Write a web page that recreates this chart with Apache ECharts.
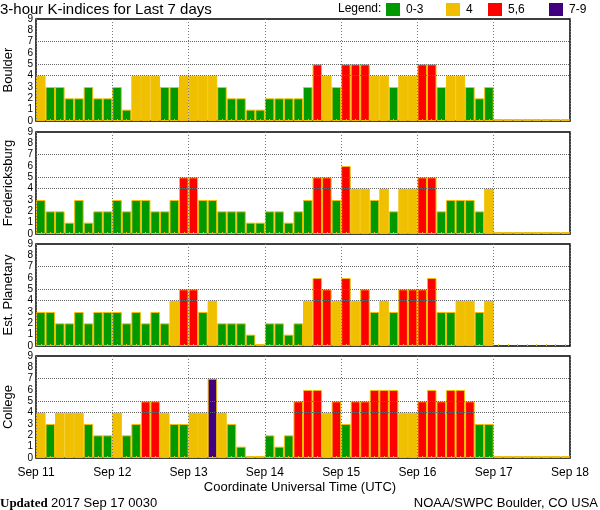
<!DOCTYPE html>
<html>
<head>
<meta charset="utf-8">
<script src="https://cdn.jsdelivr.net/npm/echarts@6/dist/echarts.min.js"></script>
<style>
html,body{margin:0;padding:0;background:#fff;}
#chart{width:600px;height:510px;}
</style>
</head>
<body>
<div id="chart"></div>
<script>
// ---- data ----
const dayLabels = ['Sep 11','Sep 12','Sep 13','Sep 14','Sep 15','Sep 16','Sep 17','Sep 18'];
const stations = ['Boulder','Fredericksburg','Est. Planetary','College'];
const yTicks = [0,1,2,3,4,5,6,7,8,9];

const boulder = [4,3,3,2,2,3,2,2, 3,1,4,4,4,3,3,4, 4,4,4,3,2,2,1,1, 2,2,2,2,3,5,4,3, 5,5,5,4,4,3,4,4, 5,5,3,4,4,3,2,3, 0,0,0,0,0,0,0,0];
const fredericksburg = [3,2,2,1,3,1,2,2, 3,2,3,3,2,2,3,5, 5,3,3,2,2,2,1,1, 2,2,1,2,3,5,5,3, 6,4,4,3,4,2,4,4, 5,5,2,3,3,3,2,4, 0,0,0,0,0,0,0,0];
const estPlanetary = [3,3,2,2,3,2,3,3, 3,2,3,2,3,2,4,5, 5,3,4,2,2,2,1,0, 2,2,1,2,4,6,5,4, 6,4,5,3,4,3,5,5, 5,6,3,3,4,4,3,4, null,null,null,null,null,null,null,null];
const college = [4,3,4,4,4,3,2,2, 4,2,3,5,5,4,3,3, 4,4,7,4,3,1,0,0, 2,1,2,5,6,6,4,5, 3,5,5,6,6,6,4,4, 5,6,5,6,6,5,3,3, 0,0,0,0,0,0,0,0];
const stationData = [boulder, fredericksburg, estPlanetary, college];

const legendItems = ['0-3','4','5,6','7-9'];
const refLines = [4,5,7];

// ---- styling ----
const GREEN = '#009900', YELLOW = '#f0c000', RED = '#ff0000', PURPLE = '#400080';
const legendColors = [GREEN, YELLOW, RED, PURPLE];
function colorFor(v){ if (v <= 3) return GREEN; if (v === 4) return YELLOW; if (v <= 6) return RED; return PURPLE; }
const FONT = 'Liberation Sans';
const tops = [19, 132, 244, 356];
const H = 102;
const nSlots = boulder.length;
const cats = Array.from({length:nSlots}, (_,i)=>i);

const grids = [], xAxes = [], yAxes = [], series = [];
stations.forEach((name, p) => {
  grids.push({left:36, right:30, top:tops[p], height:H, show:true, borderColor:'#000', borderWidth:1.5,
    backgroundColor:'#fff', containLabel:false, outerBoundsMode:'none'});
  xAxes.push({
    type:'category', gridIndex:p, data:cats, boundaryGap:true, z:5,
    axisLine:{show:false}, axisLabel:{show:false}, splitLine:{show:false},
    axisTick:{show:true, inside:true, length:2, alignWithLabel:true, interval:0, lineStyle:{color:YELLOW, width:1}}
  });
  xAxes.push({
    type:'value', gridIndex:p, min:0, max:dayLabels.length-1, interval:1, position:'bottom', z:4,
    axisLine:{show:false}, axisTick:{show:false},
    axisLabel:{show: p===3, showMinLabel:true, showMaxLabel:true, margin:9, color:'#000', fontFamily:FONT, fontSize:12,
      formatter:(v)=>dayLabels[Math.round(v)]},
    splitLine:{show:true, lineStyle:{color:'#777', type:[1,2], width:1}}
  });
  yAxes.push({
    type:'value', gridIndex:p, min:yTicks[0], max:yTicks[yTicks.length-1], interval:1,
    axisLine:{show:false}, axisTick:{show:false}, splitLine:{show:false},
    axisLabel:{color:'#000', fontFamily:FONT, fontSize:10, margin:3},
    name:name, nameLocation:'middle', nameRotate:90, nameGap:21,
    nameTextStyle:{color:'#000', fontFamily:FONT, fontSize:13}
  });
  series.push({
    type:'bar', xAxisIndex:2*p, yAxisIndex:p, barCategoryGap:'0%', barMinHeight:2,
    data: stationData[p].map(v => v == null ? null : {value:v, itemStyle:{color:colorFor(v)}}),
    itemStyle:{borderColor:YELLOW, borderWidth:1},
    markLine:{silent:true, symbol:['none','none'], label:{show:false},
      lineStyle:{color:'#666', type:'dotted', width:1},
      emphasis:{disabled:true},
      data: refLines.map(y=>({yAxis:y}))}
  });
});

// legend drawn as graphic
const legendX = [386, 446, 488, 549];
const graphic = [
  {type:'text', left:0, top:2, style:{text:'3-hour K-indices for Last 7 days', fill:'#000', font:'15px "Liberation Sans"'}},
  {type:'text', left:338, top:3, style:{text:'Legend:', fill:'#000', font:'12px "Liberation Sans"'}},
  {type:'text', left:'center', top:481, style:{text:'Coordinate Universal Time (UTC)', fill:'#000', font:'13px "Liberation Sans"'}},
  {type:'text', left:0, top:497, style:{rich:{b:{font:'bold 13px "Liberation Serif"', fill:'#000'}, n:{font:'13px "Liberation Sans"', fill:'#000'}}, text:'{b|Updated} {n|2017 Sep 17 0030}'}},
  {type:'text', right:2, top:497, style:{text:'NOAA/SWPC Boulder, CO USA', fill:'#000', font:'13px "Liberation Sans"'}}
];
legendItems.forEach((t,i)=>{
  graphic.push({type:'rect', shape:{x:legendX[i], y:3, width:14, height:13}, style:{fill:legendColors[i]}});
  graphic.push({type:'text', x:legendX[i]+20, y:4, style:{text:t, fill:'#000', font:'12px "Liberation Sans"'}});
});

const chart = echarts.init(document.getElementById('chart'), null, {renderer:'canvas'});
chart.setOption({
  animation:false,
  backgroundColor:'#fff',
  grid:grids, xAxis:xAxes, yAxis:yAxes, series:series, graphic:graphic
});
</script>
</body>
</html>
